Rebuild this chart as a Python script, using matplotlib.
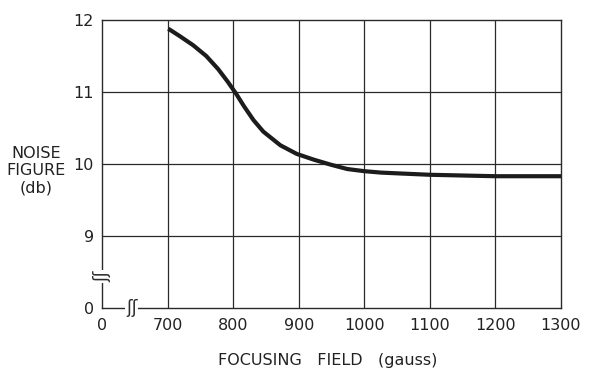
#!/usr/bin/env python3

import matplotlib
matplotlib.use('Agg')
import matplotlib.pyplot as plt
import numpy as np

plt.rcParams['font.family'] = ['DejaVu Sans']

# focusing field (gauss) vs noise figure (db)
field = [701, 718, 739, 759, 777, 792, 805, 816, 831, 846, 872, 897, 923, 949, 974, 1000,
         1026, 1050, 1100, 1150, 1200, 1250, 1300]
noise = [11.88, 11.78, 11.65, 11.50, 11.32, 11.14, 10.97, 10.81, 10.61, 10.45, 10.26, 10.14,
         10.06, 9.99, 9.93, 9.90, 9.88, 9.87, 9.85, 9.84, 9.83, 9.83, 9.83]

xticks = [0, 700, 800, 900, 1000, 1100, 1200, 1300]
yticks = [0, 9, 10, 11, 12]


# broken axes: 0..700 and 0..9 each squeezed into one grid cell
def xfwd(x):
  x = np.asarray(x, dtype=float)
  return np.where(x >= 700, (x - 600) / 100.0, x / 700.0)


def xinv(u):
  u = np.asarray(u, dtype=float)
  return np.where(u >= 1, u * 100.0 + 600, u * 700.0)


def yfwd(y):
  y = np.asarray(y, dtype=float)
  return np.where(y >= 9, y - 8.0, y / 9.0)


def yinv(v):
  v = np.asarray(v, dtype=float)
  return np.where(v >= 1, v + 8.0, v * 9.0)


fig = plt.figure(figsize=(5.92, 3.71), dpi=100)
ax = fig.add_axes([0.1723, 0.170, 0.7753, 0.776])
ax.set_xscale('function', functions=(xfwd, xinv))
ax.set_yscale('function', functions=(yfwd, yinv))
ax.set_xlim(0, 1300)
ax.set_ylim(0, 12)

ink = '#2a2a2a'
txt = '#222222'
for x in xticks[1:-1]:
  ax.axvline(x, color=ink, lw=0.9, zorder=1)
for y in yticks[1:-1]:
  ax.axhline(y, color=ink, lw=0.9, zorder=1)

ax.plot(field, noise, color='#1c1c1c', lw=3.0, solid_capstyle='butt',
        solid_joinstyle='round', zorder=3)

for s in ax.spines.values():
  s.set_color(ink)
  s.set_linewidth(1.0)

ax.set_xticks(xticks)
ax.set_xticklabels([str(t) for t in xticks])
ax.set_yticks(yticks)
ax.set_yticklabels([str(t) for t in yticks])
ax.tick_params(length=0, labelsize=11.5, colors=txt)
ax.tick_params(axis='x', pad=7)
ax.tick_params(axis='y', pad=6)

# break marks on both axes
bx = ax.text(0.065, 0.0, 'ʃʃ', transform=ax.transAxes, fontsize=12, ha='center', va='center',
             color=ink, zorder=5, clip_on=False)
bx.set_bbox(dict(facecolor='white', edgecolor='none', pad=0.5))
by = ax.text(0.0, 0.11, 'ʃʃ', transform=ax.transAxes, fontsize=12, ha='center', va='center',
             color=ink, rotation=90, zorder=5, clip_on=False)
by.set_bbox(dict(facecolor='white', edgecolor='none', pad=0.5))

fig.text(328 / 592, 1 - 360 / 371, 'FOCUSING   FIELD   (gauss)', fontsize=11.5,
         ha='center', va='center', color=txt)
fig.text(36 / 592, 1 - 171 / 371, 'NOISE\nFIGURE\n(db)', fontsize=11.5, ha='center',
         va='center', linespacing=1.2, color=txt)

plt.savefig('out.png', dpi=100)
